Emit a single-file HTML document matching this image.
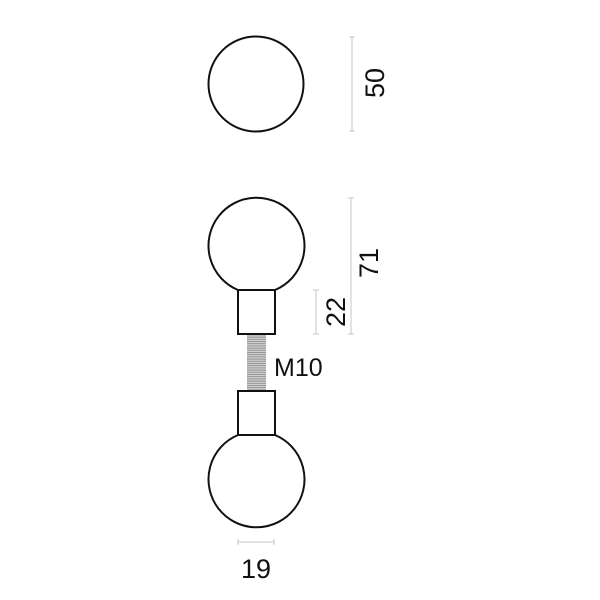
<!DOCTYPE html>
<html><head><style>
html,body{margin:0;padding:0;background:#fff;width:600px;height:600px;overflow:hidden}
text{font-family:"Liberation Sans",sans-serif;fill:#111}
</style></head><body>
<svg width="600" height="600" viewBox="0 0 600 600" xmlns="http://www.w3.org/2000/svg">
<defs>
<pattern id="th" width="4" height="2.2" patternUnits="userSpaceOnUse">
<rect width="4" height="2.2" fill="#d0d0d0"/>
<line x1="0" y1="0.5" x2="4" y2="0.5" stroke="#888" stroke-width="0.8"/>
</pattern>
</defs>
<circle cx="256" cy="84" r="47.5" fill="none" stroke="#111" stroke-width="2"/>
<path d="M238 290 A48 48 0 1 1 275 290" fill="none" stroke="#111" stroke-width="2"/>
<rect x="238" y="290" width="37" height="44" fill="#fff" stroke="#111" stroke-width="2"/>
<rect x="247" y="335" width="19" height="56" fill="url(#th)"/>
<rect x="238" y="391" width="37" height="44" fill="#fff" stroke="#111" stroke-width="2"/>
<path d="M238 435 A48 48 0 1 0 275 435" fill="none" stroke="#111" stroke-width="2"/>
<g stroke="#c4c4c4" stroke-width="1">
<line x1="352" y1="37" x2="352" y2="131"/><line x1="349" y1="37" x2="355" y2="37"/><line x1="349" y1="131" x2="355" y2="131"/>
<line x1="351" y1="198" x2="351" y2="334"/><line x1="348" y1="198" x2="354" y2="198"/><line x1="348" y1="334" x2="354" y2="334"/>
<line x1="316" y1="290" x2="316" y2="334"/><line x1="313" y1="290" x2="319" y2="290"/><line x1="313" y1="334" x2="319" y2="334"/>
<line x1="238" y1="542" x2="274" y2="542"/><line x1="238" y1="539" x2="238" y2="545"/><line x1="274" y1="539" x2="274" y2="545"/>
</g>
<text font-size="27" text-anchor="middle" transform="translate(384,83) rotate(-90)">50</text>
<text font-size="27" text-anchor="middle" transform="translate(378,263) rotate(-90)">71</text>
<text font-size="27" text-anchor="middle" transform="translate(345,312) rotate(-90)">22</text>
<text x="274" y="376" font-size="25">M10</text>
<text x="256" y="578" font-size="27" text-anchor="middle">19</text>
</svg>
</body></html>
